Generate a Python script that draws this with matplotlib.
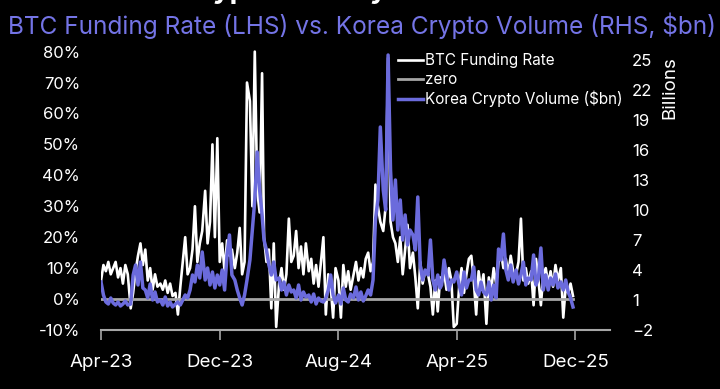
import pandas as pd
import matplotlib.pyplot as plt
import matplotlib.dates as mdates

plt.rcParams['font.family'] = ['Inter', 'DejaVu Sans']

# Months covered by the data, six readings per month (days 1, 6, 11, 16, 21, 26)
months = pd.date_range('2023-04-01', '2025-11-01', freq='MS')
days_in_month = [0, 5, 10, 15, 20, 25]

# BTC funding rate (%)
funding = [
    6, 11, 9, 12, 8, 10,        # Apr-23
    12, 7, 10, 5, 11, 8,        # May-23
    -3, 2, 9, 14, 18, 11,       # Jun-23
    16, 6, 10, 3, 8, 4,         # Jul-23
    5, 3, 6, 2, 5, 1,           # Aug-23
    2, -5, 4, 12, 20, 8,        # Sep-23
    10, 16, 30, 12, 18, 22,     # Oct-23
    35, 18, 25, 50, 20, 52,     # Nov-23
    12, 18, 9, 19, 14, 16,      # Dec-23
    10, 15, 23, 8, 12, 70,      # Jan-24
    64, 30, 80, 35, 28, 73,     # Feb-24
    20, 12, 16, -3, 18, -9,     # Mar-24
    5, 10, 3, 8, 26, 12,        # Apr-24
    14, 22, 10, 17, 8, 18,      # May-24
    9, 13, 5, 11, 4, 12,        # Jun-24
    20, -5, 8, 4, -6, 10,       # Jul-24
    6, -6, 11, 4, 9, 3,         # Aug-24
    8, 12, 6, 10, 7, 13,        # Sep-24
    15, 9, 12, 37, 30, 25,      # Oct-24
    22, 30, 78, 25, 20, 18,     # Nov-24
    12, 20, 8, 16, 24, 10,      # Dec-24
    15, 7, -3, 12, 5, 9,        # Jan-25
    8, 4, -5, 6, -4, 7,         # Feb-25
    5, 9, 3, 10, 6, -9,         # Mar-25
    -8, 4, 10, 2, 8, 13,        # Apr-25
    14, 6, -5, 9, 3, 8,         # May-25
    -8, 7, 3, 10, 5, 12,        # Jun-25
    15, 10, 13, 8, 14, 9,       # Jul-25
    8, 12, 26, 6, 10, 5,        # Aug-25
    9, -2, 13, 6, -2, 8,        # Sep-25
    10, 5, 9, 4, 11, 6,         # Oct-25
    10, -6, 4, 2, 5, 1,         # Nov-25
]

# Korea crypto volume ($bn)
volume = [
    2.8, 1.5, 0.8, 0.6, 1.2, 0.7,
    0.5, 0.8, 0.4, 0.6, 0.9, 0.5,
    0.6, 3.5, 4.5, 2.5, 4.8, 2.2,
    2.0, 1.2, 2.6, 1.0, 1.8, 0.8,
    1.0, 0.5, 1.3, 0.4, 0.8, 0.3,
    0.6, 0.8, 0.5, 1.0, 1.5, 1.2,
    2.0, 3.5, 2.8, 4.5, 3.2, 5.8,
    3.0, 4.2, 2.5, 3.8, 2.2, 3.5,
    2.5, 4.0, 2.0, 5.5, 7.5, 3.5,
    3.0, 2.0, 1.2, 0.5, 1.5, 3.0,
    5.0, 8.0, 11.0, 15.8, 12.0, 9.5,
    7.0, 6.0, 4.5, 3.5, 4.8, 3.0,
    3.2, 2.0, 2.8, 1.5, 2.5, 1.8,
    2.0, 1.2, 2.5, 1.0, 1.8, 1.3,
    1.5, 0.8, 1.6, 0.6, 1.2, 0.9,
    0.8, 1.2, 2.0, 3.5, 1.5, 0.7,
    1.5, 0.6, 2.2, 1.0, 0.8, 1.6,
    1.2, 2.3, 1.0, 1.8, 0.9, 1.4,
    2.0, 1.5, 3.0, 9.0, 11.0, 18.3,
    12.0, 10.0, 25.5, 14.0, 9.0, 13.0,
    8.0, 11.0, 7.0, 9.5, 6.5, 8.0,
    7.5, 6.0, 11.3, 4.5, 3.0, 4.0,
    3.5, 7.0, 3.0, 2.0, 3.5, 2.2,
    2.5, 5.0, 3.5, 2.0, 3.0, 2.8,
    3.8, 2.5, 1.5, 3.8, 2.2, 3.0,
    3.0, 4.3, 2.0, 1.5, 2.8, 1.8,
    1.5, 2.8, 1.0, 2.5, 1.2, 6.1,
    5.0, 7.6, 4.0, 3.0, 4.5, 2.8,
    4.0, 2.6, 3.5, 4.8, 2.5, 3.2,
    3.0, 5.5, 2.5, 3.2, 6.2, 2.0,
    3.5, 2.0, 3.2, 2.5, 3.6, 2.2,
    2.8, 2.0, 3.0, 1.8, 1.2, 0.3,
]

left_ticks = [-10, 0, 10, 20, 30, 40, 50, 60, 70, 80]
right_ticks = [-2, 1, 4, 7, 10, 13, 16, 19, 22, 25]
x_ticks = ['2023-04-01', '2023-12-01', '2024-08-01', '2025-04-01', '2025-12-01']

dates = [m + pd.Timedelta(days=d) for m in months for d in days_in_month]

blue = '#6b6bdc'
grey = '#a6a6a6'

fig = plt.figure(figsize=(7.2, 3.89), dpi=100, facecolor='black')
ax = fig.add_axes([0.1403, 0.1517, 0.7069, 0.7236])
ax.set_facecolor('black')
ax2 = ax.twinx()

l1, = ax.plot(dates, funding, color='white', lw=1.9, label='BTC Funding Rate')
l0, = ax.plot([dates[0], dates[-1]], [0, 0], color=grey, lw=2, label='zero')
l2, = ax2.plot(dates, volume, color=blue, lw=2.5, label='Korea Crypto Volume (\\$bn)')

ax.set_ylim(-10, 81)
ax2.set_ylim(-2, 26.15)
ax.set_xlim(pd.Timestamp('2023-04-01'), pd.Timestamp('2026-02-10'))

ax.set_yticks(left_ticks)
ax.set_yticklabels([f'{t}%' for t in left_ticks])
ax2.set_yticks(right_ticks)
ax.set_xticks(pd.to_datetime(x_ticks))
ax.xaxis.set_major_formatter(mdates.DateFormatter('%b-%y'))

for a in (ax, ax2):
    for s in a.spines.values():
        s.set_visible(False)
ax.spines['bottom'].set_visible(True)
ax.spines['bottom'].set_color(grey)
ax.spines['bottom'].set_linewidth(1.5)

ax.tick_params(axis='x', colors=grey, labelcolor='white', labelsize=13.5,
               length=7, width=1.2, pad=10)
ax.tick_params(axis='y', length=0, labelcolor='white', labelsize=12, pad=15)
ax2.tick_params(axis='y', length=0, labelcolor='white', labelsize=12, pad=16)

leg = ax.legend(handles=[l1, l0, l2], loc='upper left', bbox_to_anchor=(0.572, 1.005),
                frameon=False, fontsize=11, labelcolor='white', handlelength=1.6,
                handletextpad=0.15, labelspacing=0.25, borderaxespad=0)

fig.text(0.93, 0.775, 'Billions', rotation=90, color='white', fontsize=13.5,
         ha='center', va='center')
fig.text(0.503, 0.933, 'BTC Funding Rate (LHS) vs. Korea Crypto Volume (RHS, \\$bn)',
         color='#7474e6', fontsize=17.6, ha='center', va='center')
# top title cut off by the screenshot edge
fig.text(0.251, 1.004, 'Crypto Activity', color='white', fontsize=20,
         fontweight='bold', ha='left', va='baseline')

fig.savefig('out.png', dpi=100, facecolor='black')
